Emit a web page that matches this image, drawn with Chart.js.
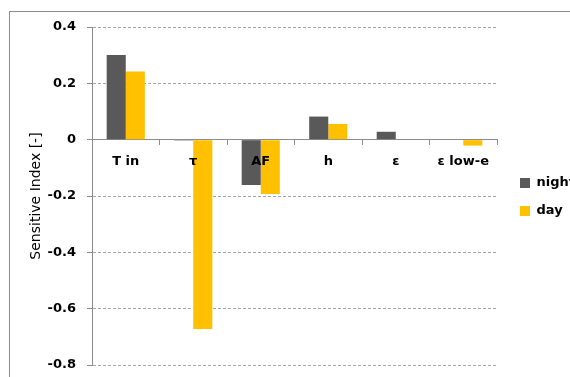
<!DOCTYPE html>
<html>
  <head>
    <script src="https://cdn.jsdelivr.net/npm/chart.js"></script>
    <style>
      body { margin: 0; overflow: hidden; background: #fff; }
      #wrap { position: relative; width: 570px; height: 377px; }
      #frame {
        position: absolute; left: 9px; top: 11px; width: 600px; height: 400px;
        border-top: 1px solid #8c8c8c; border-left: 1px solid #8c8c8c;
      }
      #Chart { position: absolute; left: 0; top: 0; }
    </style>
  </head>
  <body>
    <div id="wrap">
      <div id="frame"></div>
      <canvas id="Chart" width="570" height="377"></canvas>
    </div>
    <script>
      const categories = ["T in", "τ", "AF", "h", "ε", "ε low-e"];
      const nightValues = [0.301, -0.003, -0.161, 0.082, 0.028, 0];
      const dayValues = [0.242, -0.672, -0.193, 0.056, 0, -0.021];
      const yTicks = [0.4, 0.2, 0, -0.2, -0.4, -0.6, -0.8];

      const axisGray = "#8c8c8c";

      Chart.defaults.font.family = "DejaVu Sans";
      Chart.defaults.color = "#000";

      // nudge the legend right/down from where the layout puts it
      const legendShift = {
        id: "legendShift",
        afterLayout(chart) {
          const lg = chart.legend;
          lg.left += 8;
          lg.right += 8;
          lg.top += 1;
          lg.bottom += 1;
        },
      };

      const ctx = document.getElementById("Chart");
      new Chart(ctx, {
        type: "bar",
        data: {
          labels: categories,
          datasets: [
            {
              label: "night",
              data: nightValues,
              backgroundColor: "#595959",
              borderWidth: 0,
            },
            {
              label: "day",
              data: dayValues,
              backgroundColor: "#ffc000",
              borderWidth: 0,
            },
          ],
        },
        options: {
          responsive: false,
          animation: false,
          barPercentage: 1.0,
          categoryPercentage: 0.565,
          layout: {
            padding: { left: 0, top: 27, right: -7, bottom: 12 },
          },
          scales: {
            x: {
              // category axis sits on the zero line, labels drawn over the bars
              position: { y: 0 },
              grid: {
                drawOnChartArea: false,
                offset: true,
                tickLength: 5,
                color: axisGray,
              },
              border: { color: axisGray, width: 1 },
              ticks: {
                z: 1,
                padding: 9,
                font: { size: 13, weight: "bold" },
              },
            },
            y: {
              min: -0.8,
              max: 0.4,
              afterBuildTicks: (scale) => {
                scale.ticks = yTicks.map((v) => ({ value: v }));
              },
              afterFit: (scale) => {
                scale.width = 92;
                // layout padding already leaves room for the end labels
                scale.paddingTop = 0;
                scale.paddingBottom = 0;
              },
              grid: {
                color: "#a6a6a6",
                tickLength: 5,
                tickColor: axisGray,
              },
              border: { color: axisGray, width: 1, dash: [3, 2] },
              ticks: {
                padding: 11,
                font: { size: 13, weight: "bold" },
                callback: (v) => (v === 0 ? "0" : v.toFixed(1)),
              },
              title: {
                display: true,
                text: "Sensitive Index [-]",
                font: { size: 14 },
                padding: { top: 27.6, bottom: 0 },
              },
            },
          },
          plugins: {
            legend: {
              position: "right",
              labels: {
                boxWidth: 10,
                boxHeight: 10,
                padding: 15,
                font: { size: 13, weight: "bold" },
              },
            },
            tooltip: { enabled: false },
          },
        },
        plugins: [legendShift],
      });
    </script>
  </body>
</html>
